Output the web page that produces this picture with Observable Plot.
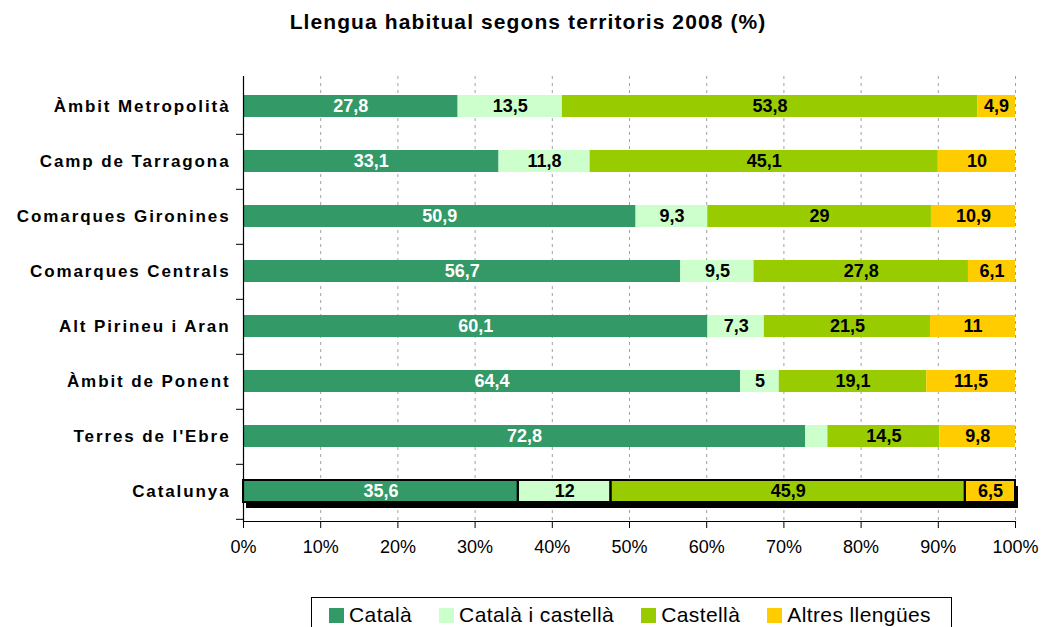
<!DOCTYPE html>
<html>
<head>
<meta charset="utf-8">
<script src="https://cdn.jsdelivr.net/npm/d3@7"></script>
<script src="https://cdn.jsdelivr.net/npm/@observablehq/plot@0.6"></script>
<style>
  html, body { margin: 0; padding: 0; background: #fff; }
  body { width: 1044px; height: 627px; position: relative; overflow: hidden; font-family: "Liberation Sans", Arial, sans-serif; }
  #title { position: absolute; left: 6px; top: 11px; width: 1044px; text-align: center; font-size: 21px; font-weight: bold; letter-spacing: 1.1px; line-height: 22px; z-index: 2; }
  #chart { position: absolute; left: 0; top: 0; z-index: 1; }
  #legend { position: absolute; left: 311px; top: 597px; width: 641px; height: 44px; border: 1px solid #000; box-sizing: border-box; display: flex; align-items: flex-start; padding-left: 17px; gap: 27px; background: #fff; z-index: 2; }
  .item { display: flex; align-items: center; height: 34px; font-size: 21px; letter-spacing: 0.4px; }
  .sw { width: 15px; height: 15px; margin-right: 5px; }
</style>
</head>
<body>
<div id="title">Llengua habitual segons territoris 2008 (%)</div>
<div id="chart"></div>
<div id="legend"></div>
<script>
const territories = ["Àmbit Metropolità", "Camp de Tarragona", "Comarques Gironines", "Comarques Centrals", "Alt Pirineu i Aran", "Àmbit de Ponent", "Terres de l'Ebre", "Catalunya"];
const languages = ["Català", "Català i castellà", "Castellà", "Altres llengües"];
const colors = ["#339966", "#CCFFCC", "#99CC00", "#FFCC00"];
const catala = [27.8, 33.1, 50.9, 56.7, 60.1, 64.4, 72.8, 35.6];
const catalaCastella = [13.5, 11.8, 9.3, 9.5, 7.3, 5, 2.9, 12];
const castella = [53.8, 45.1, 29, 27.8, 21.5, 19.1, 14.5, 45.9];
const altres = [4.9, 10, 10.9, 6.1, 11, 11.5, 9.8, 6.5];
const xTicks = [0, 0.1, 0.2, 0.3, 0.4, 0.5, 0.6, 0.7, 0.8, 0.9, 1];

const series = [catala, catalaCastella, castella, altres];
const rows = [];
territories.forEach((t, i) => languages.forEach((l, j) => rows.push({territory: t, language: l, value: series[j][i]})));
const fmt = v => String(v).replace(".", ",");

const W = 1044, H = 580, mt = 76, mb = 59, ml = 243, mr = 29;
const step = (H - mt - mb) / territories.length;

const stackOpts = (extra) => Plot.stackX({offset: "normalize", x: "value", y: "territory", z: "language", ...extra});

const chart = Plot.plot({
  width: W, height: H,
  marginLeft: ml, marginRight: mr, marginTop: mt, marginBottom: mb,
  style: {fontFamily: "'Liberation Sans', Arial, sans-serif", color: "black", background: "transparent", overflow: "visible"},
  x: {domain: [0, 1], axis: null},
  y: {domain: territories, axis: null, paddingInner: 0.6, paddingOuter: 0.3},
  color: {domain: languages, range: colors},
  marks: [
    Plot.gridX(xTicks.slice(1), {stroke: "#a0a0a0", strokeOpacity: 1, strokeDasharray: "3,4", strokeWidth: 1}),
    Plot.barX(["Catalunya"], {x1: 0, x2: 1, y: d => d, fill: "black", dx: 3, dy: 6}),
    Plot.barX(rows, stackOpts({fill: "language"})),
    Plot.barX(rows.filter(d => d.territory === "Catalunya"), stackOpts({fill: "none", stroke: "black", strokeWidth: 2})),
    Plot.text(rows, stackOpts({text: d => d.language === "Català" && d.value >= 3 ? fmt(d.value) : null, fill: "white", fontSize: 18, fontWeight: "bold"})),
    Plot.text(rows, stackOpts({text: d => d.language !== "Català" && d.value >= 3 ? fmt(d.value) : null, fill: "black", fontSize: 18, fontWeight: "bold"})),
    Plot.ruleX([0], {stroke: "black", strokeWidth: 1.2}),
    Plot.frame({anchor: "bottom", stroke: "black", strokeWidth: 1.2}),
    Plot.axisX(xTicks, {tickSize: 7, tickPadding: 12, fontSize: 18, tickFormat: d3.format(".0%"), label: null, stroke: "black"}),
    Plot.axisY({tickSize: 0, tickPadding: 13, fontSize: 17, fontWeight: "bold", label: null}),
    Plot.axisY({tickSize: 7, text: null, dy: step / 2, label: null, stroke: "black"})
  ]
});
document.getElementById("chart").appendChild(chart);
chart.querySelectorAll('[aria-label="y-axis tick label"] text').forEach(t => { t.style.letterSpacing = "1.9px"; });

const legend = document.getElementById("legend");
languages.forEach((l, i) => {
  const it = document.createElement("div");
  it.className = "item";
  it.innerHTML = `<span class="sw" style="background:${colors[i]}"></span><span>${l}</span>`;
  legend.appendChild(it);
});
</script>
</body>
</html>
